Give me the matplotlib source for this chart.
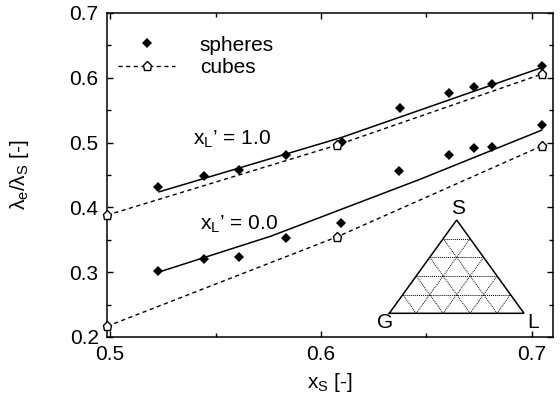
import numpy as np
import matplotlib
matplotlib.use("Agg")
import matplotlib.pyplot as plt
from matplotlib.ticker import FixedLocator

plt.rcParams['font.family'] = ['Liberation Sans', 'DejaVu Sans']
plt.rcParams['mathtext.fontset'] = 'custom'
plt.rcParams['mathtext.rm'] = 'Liberation Sans'
plt.rcParams['mathtext.it'] = 'Liberation Sans'
plt.rcParams['mathtext.bf'] = 'Liberation Sans:bold'

# ---- data ----
sph_x = [0.5229, 0.5445, 0.561, 0.5833, 0.6098, 0.6374, 0.6608, 0.6725, 0.6812, 0.7049]
sph_y_10 = [0.4314, 0.4484, 0.457, 0.4804, 0.501, 0.553, 0.576, 0.586, 0.591, 0.6184]
sph_x_00 = [0.5229, 0.5445, 0.561, 0.5833, 0.6096, 0.637, 0.6608, 0.6725, 0.6812, 0.7049]
sph_y_00 = [0.3026, 0.3207, 0.323, 0.3532, 0.3763, 0.456, 0.4804, 0.4917, 0.4938, 0.5278]

cube_x = [0.4985, 0.6077, 0.7046]
cube_y_10 = [0.388, 0.4963, 0.6056]
cube_y_00 = [0.2165, 0.3547, 0.4947]

fit_x_10 = [0.5229, 0.6098, 0.7049]
fit_y_10 = [0.4237, 0.508, 0.616]
fit_x_00 = [0.5229, 0.5763, 0.6469, 0.7049]
fit_y_00 = [0.300, 0.3557, 0.4433, 0.5195]

# ---- figure ----
W, H = 560, 404
FS = 15
fig = plt.figure(figsize=(W / 100, H / 100), dpi=100)
ax = fig.add_axes([107 / W, (H - 337) / H, (553 - 107) / W, (337 - 13) / H])

dash = (0, (3, 2.5))
ax.plot(fit_x_10, fit_y_10, color='black', lw=1.1, solid_capstyle='butt')
ax.plot(fit_x_00, fit_y_00, color='black', lw=1.1, solid_capstyle='butt')
ax.plot(cube_x, cube_y_00, color='black', lw=1.0, linestyle=dash, clip_on=False)

ax.plot(sph_x, sph_y_10, 'D', color='black', ms=5, mew=0, linestyle='none', label='spheres')
ax.plot(sph_x_00, sph_y_00, 'D', color='black', ms=5, mew=0, linestyle='none')
ax.plot(cube_x, cube_y_10, marker='p', color='black', mfc='white', ms=6.5, mew=1.0,
        linestyle=dash, lw=1.0, clip_on=False, label='cubes', zorder=5)
ax.plot(cube_x, cube_y_00, marker='p', color='black', mfc='white', ms=6.5, mew=1.0,
        linestyle='none', clip_on=False, zorder=5)

ax.set_xlim(0.4985, 0.71)
ax.set_ylim(0.2, 0.7)

ax.xaxis.set_major_locator(FixedLocator([0.5, 0.6, 0.7]))
ax.xaxis.set_minor_locator(FixedLocator([0.55, 0.65]))
ax.yaxis.set_major_locator(FixedLocator([0.2, 0.3, 0.4, 0.5, 0.6, 0.7]))
ax.yaxis.set_minor_locator(FixedLocator([0.25, 0.35, 0.45, 0.55, 0.65]))
ax.set_xticklabels(['0.5', '0.6', '0.7'])
ax.set_yticklabels(['0.2', '0.3', '0.4', '0.5', '0.6', '0.7'])
ax.tick_params(which='both', direction='in', top=True, right=True, labelsize=FS, width=1)
ax.tick_params(which='major', length=4.5, pad=6)
ax.tick_params(which='minor', length=3)
for s in ax.spines.values():
    s.set_linewidth(1.1)

ax.set_xlabel(r'$\mathrm{x_S}$ [-]', fontsize=FS)
ax.set_ylabel(r'$\lambda_\mathrm{e}/\lambda_\mathrm{S}$ [-]', fontsize=FS)
ax.xaxis.set_label_coords(0.5, -0.105)
ax.yaxis.set_label_coords(-0.17, 0.5)

ax.text(0.5393, 0.505, r"x$_\mathrm{L}$’ = 1.0", fontsize=FS, va='center', ha='left')
ax.text(0.5427, 0.3737, r"x$_\mathrm{L}$’ = 0.0", fontsize=FS, va='center', ha='left')

leg = ax.legend(loc='upper left', bbox_to_anchor=(-0.007, 0.975), frameon=False, fontsize=FS,
                handlelength=2.7, handletextpad=1.2, labelspacing=0.15, borderaxespad=0.3)

# ---- ternary inset ----
x0, y0, x1, y1 = 389.3, 313.3, 524, 220
iax = fig.add_axes([x0 / W, (H - y0) / H, (x1 - x0) / W, (y0 - y1) / H])
iax.set_xlim(0, 1)
iax.set_ylim(0, 1)
iax.axis('off')
G = np.array([0.0, 0.0]); L = np.array([1.0, 0.0]); S = np.array([0.5, 1.0])
n = 5
for i in range(1, n):
    t = i / n
    a = G + (S - G) * t; b = L + (S - L) * t
    iax.plot([a[0], b[0]], [a[1], b[1]], color='black', lw=0.7, linestyle=(0, (1, 1)))
    a = G + (L - G) * t; b = a + (S - G) * (1 - t)
    iax.plot([a[0], b[0]], [a[1], b[1]], color='black', lw=0.7, linestyle=(0, (1, 1)))
    a = G + (L - G) * t; b = a + (S - L) * t
    iax.plot([a[0], b[0]], [a[1], b[1]], color='black', lw=0.7, linestyle=(0, (1, 1)))
iax.plot([G[0], L[0], S[0], G[0]], [G[1], L[1], S[1], G[1]], color='black', lw=1.1,
         clip_on=False, solid_joinstyle='miter')
fig.text(458.3 / W, 1 - 208 / H, 'S', fontsize=FS, ha='center', va='center')
fig.text(385 / W, 1 - 323 / H, 'G', fontsize=FS, ha='center', va='center')
fig.text(533.3 / W, 1 - 323 / H, 'L', fontsize=FS, ha='center', va='center')

fig.savefig('out.png', dpi=100)
